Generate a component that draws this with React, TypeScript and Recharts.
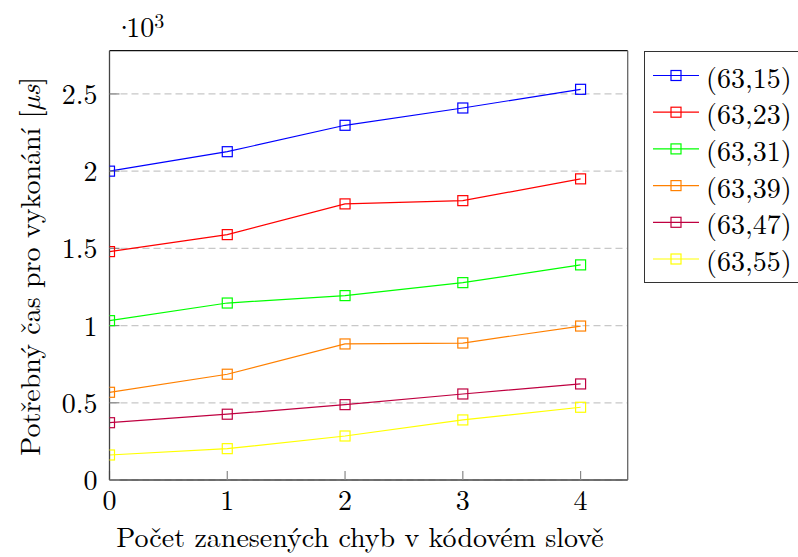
import React from 'react';
import { LineChart, Line, XAxis, YAxis, CartesianGrid, Label } from 'recharts';

const errorCounts = [0, 1, 2, 3, 4];
const s6315 = [2000, 2126, 2297, 2409, 2530];
const s6323 = [1479, 1589, 1788, 1809, 1950];
const s6331 = [1032, 1146, 1194, 1278, 1393];
const s6339 = [568, 685, 881, 887, 997];
const s6347 = [371, 426, 488, 557, 622];
const s6355 = [162, 203, 285, 389, 471];

const seriesNames = ['(63,15)', '(63,23)', '(63,31)', '(63,39)', '(63,47)', '(63,55)'];
const seriesValues = [s6315, s6323, s6331, s6339, s6347, s6355];
const seriesColors = ['#0000ff', '#ff0000', '#00ff00', '#ff8000', '#bf0040', '#ffff00'];

const xTicks = [0, 1, 2, 3, 4];
const yTicks = [0, 500, 1000, 1500, 2000, 2500];
const yTickLabels = ['0', '0.5', '1', '1.5', '2', '2.5'];

const xLabel = 'Počet zanesených chyb v kódovém slově';

const data = errorCounts.map((x, i) => {
  const row: any = { x };
  seriesValues.forEach((vals, k) => {
    row['s' + k] = vals[i];
  });
  return row;
});

const FONT = "'Latin Modern Roman', 'Liberation Serif', serif";
const FS = 28;
const AXIS_COLOR = '#444';
const TICK_COLOR = '#888';

const PLOT_LEFT = 109.5;
const PLOT_TOP = 50.7;
const PLOT_RIGHT = 627.7;
const PLOT_BOTTOM = 480;
const W = 798;
const H = 557;
const Y_AXIS_W = 60;
const X_AXIS_H = 30;
const TOP_AXIS_H = 10;
const RIGHT_AXIS_W = 10;

const squareDot = (color: string, sid: number) => (props: any) => {
  const { cx, cy, index } = props;
  return (
    <rect
      key={`dot-${sid}-${index}`}
      x={cx - 5}
      y={cy - 5}
      width={10}
      height={10}
      fill="none"
      stroke={color}
      strokeWidth={1.2}
    />
  );
};

const YLabelContent = (props: any) => {
  const vb = props.viewBox || { y: PLOT_TOP, height: PLOT_BOTTOM - PLOT_TOP };
  const cx = 28;
  const cy = vb.y + vb.height / 2 + 1;
  return (
    <text
      x={cx}
      y={cy}
      transform={`rotate(-90 ${cx} ${cy})`}
      textAnchor="middle"
      dominantBaseline="central"
      fontFamily={FONT}
      fontSize={FS}
      fill="#000"
    >
      Potřebný čas pro vykonání [<tspan fontStyle="italic">µs</tspan>]
    </text>
  );
};

const XLabelContent = () => (
  <text x={360} y={547} textAnchor="middle" fontFamily={FONT} fontSize={FS} fill="#000">
    {xLabel}
  </text>
);

const Legend6 = () => {
  const rowH = 36.7;
  return (
    <div
      style={{
        position: 'absolute',
        left: 643.5,
        top: 50.5,
        width: 180,
        height: 232,
        border: '1.3px solid #333',
        background: '#fff',
        boxSizing: 'border-box',
      }}
    >
      <svg width={180} height={230} style={{ position: 'absolute', left: 0, top: 0 }}>
        {seriesNames.map((name, i) => {
          const y = 23.5 + i * rowH;
          return (
            <g key={name}>
              <line x1={8} x2={54} y1={y} y2={y} stroke={seriesColors[i]} strokeWidth={1.2} />
              <rect x={26} y={y - 5} width={10} height={10} fill="none" stroke={seriesColors[i]} strokeWidth={1.2} />
              <text x={61} y={y} dominantBaseline="central" fontFamily={FONT} fontSize={FS} fill="#000">
                {name}
              </text>
            </g>
          );
        })}
      </svg>
    </div>
  );
};

const ScaleNote = () => (
  <svg width={90} height={45} style={{ position: 'absolute', left: 100, top: 0 }}>
    <text x={13.3} y={36.7} fontFamily={FONT} fontSize={FS} fill="#000">
      ·<tspan dx={-8.8}>10</tspan>
      <tspan fontSize={20} dy={-8.7}>3</tspan>
    </text>
  </svg>
);

export default function App() {
  return (
    <div style={{ position: 'absolute', left: 0, top: 0, width: W, height: H, overflow: 'hidden', background: '#fff' }}>
      <LineChart
        width={W}
        height={H}
        data={data}
        margin={{
          top: PLOT_TOP - TOP_AXIS_H,
          right: W - PLOT_RIGHT - RIGHT_AXIS_W,
          bottom: H - PLOT_BOTTOM - X_AXIS_H,
          left: PLOT_LEFT - Y_AXIS_W,
        }}
      >
        <CartesianGrid vertical={false} stroke="#c8c8c8" strokeDasharray="7 4" strokeWidth={1.2} syncWithTicks />
        <XAxis
          dataKey="x"
          type="number"
          domain={[0, 4.4]}
          ticks={xTicks}
          allowDataOverflow
          height={X_AXIS_H}
          tickSize={-9}
          tickMargin={19}
          tickLine={{ stroke: TICK_COLOR, strokeWidth: 1.2 }}
          axisLine={{ stroke: AXIS_COLOR, strokeWidth: 1.3 }}
          tick={{ fontFamily: FONT, fontSize: FS, fill: '#000' }}
        >
          <Label content={<XLabelContent />} />
        </XAxis>
        <XAxis
          xAxisId="top"
          orientation="top"
          dataKey="x"
          type="number"
          domain={[0, 4.4]}
          ticks={xTicks}
          allowDataOverflow
          height={TOP_AXIS_H}
          tickSize={-9}
          tick={false}
          tickLine={{ stroke: TICK_COLOR, strokeWidth: 1.2 }}
          axisLine={{ stroke: '#111', strokeWidth: 1.3 }}
        />
        <YAxis
          type="number"
          domain={[0, 2780]}
          ticks={yTicks}
          allowDataOverflow
          width={Y_AXIS_W}
          tickSize={-10}
          tickMargin={22}
          tickFormatter={(v: number) => yTickLabels[yTicks.indexOf(v)]}
          tickLine={{ stroke: TICK_COLOR, strokeWidth: 1.2 }}
          axisLine={{ stroke: AXIS_COLOR, strokeWidth: 1.3 }}
          tick={{ fontFamily: FONT, fontSize: FS, fill: '#000' }}
        >
          <Label content={<YLabelContent />} />
        </YAxis>
        <YAxis
          yAxisId="right"
          orientation="right"
          type="number"
          domain={[0, 2780]}
          ticks={yTicks}
          allowDataOverflow
          width={RIGHT_AXIS_W}
          tickSize={-10}
          tick={false}
          tickLine={{ stroke: TICK_COLOR, strokeWidth: 1.2 }}
          axisLine={{ stroke: '#666', strokeWidth: 1.3 }}
        />
        {seriesNames.map((name, i) => (
          <Line
            key={name}
            name={name}
            type="linear"
            dataKey={'s' + i}
            stroke={seriesColors[i]}
            strokeWidth={1.2}
            dot={squareDot(seriesColors[i], i)}
            activeDot={false}
            isAnimationActive={false}
          />
        ))}
      </LineChart>
      <ScaleNote />
      <Legend6 />
    </div>
  );
}
